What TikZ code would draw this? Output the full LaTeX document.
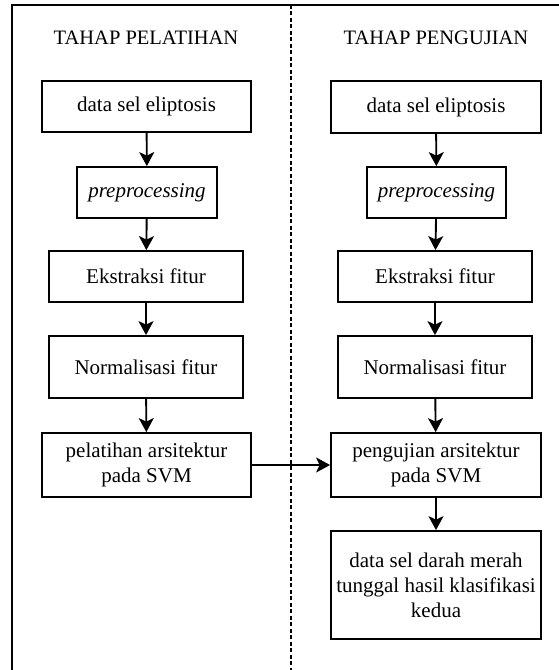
\documentclass[tikz,border=0pt]{standalone}
\usepackage{fontspec}
\setmainfont{Liberation Serif}
\usetikzlibrary{arrows.meta}
\tikzset{proc/.style={draw, line width=1.8pt, inner sep=0pt, align=center,
         font=\fontsize{21}{25}\selectfont},
         title/.style={font=\fontsize{20.5}{25}\selectfont},
         flow/.style={-{Stealth[length=14pt,width=15pt,inset=3.5pt]}, line width=1.9pt}}

\begin{document}
\begin{tikzpicture}[x=1pt,y=-1pt]
  \useasboundingbox (0,0) rectangle (558,670);
  \draw[line width=1.8pt] (12,680) -- (12,4.7) -- (570,4.7);
  \draw[dashed, dash pattern=on 4pt off 2.5pt, line width=1.6pt] (291,4.7) -- (291,680);
  % training
  \node[title] (tl) at (146,38) {TAHAP PELATIHAN};
  \node[proc, minimum width=209, minimum height=51] (l1) at (146.5,106.5) {data sel eliptosis};
  \node[proc, minimum width=140, minimum height=51] (l2) at (147,192.5) {\textit{preprocessing}};
  \node[proc, minimum width=194, minimum height=51] (l3) at (146,276.5) {Ekstraksi fitur};
  \node[proc, minimum width=194, minimum height=62] (l4) at (146,367) {Normalisasi fitur};
  \node[proc, minimum width=209, minimum height=64] (l5) at (146.5,465) {pelatihan arsitektur\\pada SVM};
  % testing
  \node[title] (tr) at (436,38) {TAHAP PENGUJIAN};
  \node[proc, minimum width=210, minimum height=52] (r1) at (436,107) {data sel eliptosis};
  \node[proc, minimum width=139, minimum height=51] (r2) at (436.5,192.5) {\textit{preprocessing}};
  \node[proc, minimum width=194, minimum height=51] (r3) at (435,276.5) {Ekstraksi fitur};
  \node[proc, minimum width=194, minimum height=62] (r4) at (435,367) {Normalisasi fitur};
  \node[proc, minimum width=210, minimum height=64] (r5) at (436,465) {pengujian arsitektur\\pada SVM};
  \node[proc, minimum width=210, minimum height=108] (r6) at (436,585) {data sel darah merah\\tunggal hasil klasifikasi\\kedua};
  \foreach \a/\b in {l1/l2,l2/l3,l3/l4,l4/l5,r1/r2,r2/r3,r3/r4,r4/r5,r5/r6}
    \draw[flow] (\a) -- (\b);
  \draw[flow] (l5) -- (r5);
\end{tikzpicture}
\end{document}
